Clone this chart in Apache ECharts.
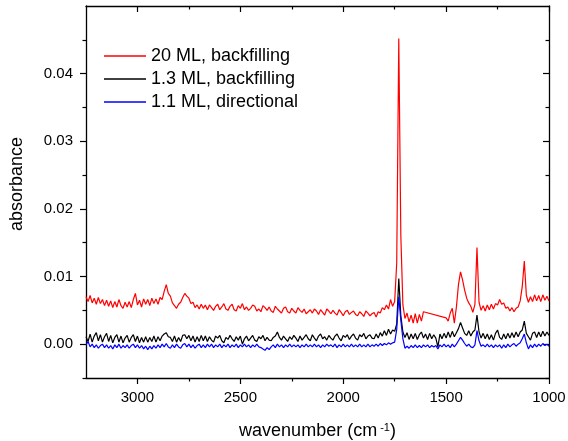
<!DOCTYPE html>
<html>
<head>
<meta charset="utf-8">
<script src="https://cdn.jsdelivr.net/npm/echarts@6/dist/echarts.min.js"></script>
<style>
html, body { margin: 0; padding: 0; background: #ffffff; }
#chart { width: 568px; height: 441px; }
</style>
</head>
<body>
<div id="chart"></div>
<script>
// IR absorbance spectra, wavenumber grid in cm^-1 (10 cm^-1 steps)
const wavenumber = [
  3250,3240,3230,3220,3210,3200,3190,3180,3170,3160,
  3150,3140,3130,3120,3110,3100,3090,3080,3070,3060,
  3050,3040,3030,3020,3010,3000,2990,2980,2970,2960,
  2950,2940,2930,2920,2910,2900,2890,2880,2870,2860,
  2850,2840,2830,2820,2810,2800,2790,2780,2770,2760,
  2750,2740,2730,2720,2710,2700,2690,2680,2670,2660,
  2650,2640,2630,2620,2610,2600,2590,2580,2570,2560,
  2550,2540,2530,2520,2510,2500,2490,2480,2470,2460,
  2450,2440,2430,2420,2410,2400,2390,2380,2370,2360,
  2350,2340,2330,2320,2310,2300,2290,2280,2270,2260,
  2250,2240,2230,2220,2210,2200,2190,2180,2170,2160,
  2150,2140,2130,2120,2110,2100,2090,2080,2070,2060,
  2050,2040,2030,2020,2010,2000,1990,1980,1970,1960,
  1950,1940,1930,1920,1910,1900,1890,1880,1870,1860,
  1850,1840,1830,1820,1810,1800,1790,1780,1770,1760,
  1750,1740,1730,1720,1710,1700,1690,1680,1670,1660,
  1650,1640,1630,1620,1610,1600,1590,1580,1570,1560,
  1550,1540,1530,1520,1510,1500,1490,1480,1470,1460,
  1450,1440,1430,1420,1410,1400,1390,1380,1370,1360,
  1350,1340,1330,1320,1310,1300,1290,1280,1270,1260,
  1250,1240,1230,1220,1210,1200,1190,1180,1170,1160,
  1150,1140,1130,1120,1110,1100,1090,1080,1070,1060,
  1050,1040,1030,1020,1010,1000
];

// 20 ML, backfilling (null = no data recorded in that window)
const ml20Backfilling = [
  0.0070,0.0063,0.0072,0.0061,0.0068,0.0059,0.0069,0.0060,0.0066,0.0057,
  0.0065,0.0056,0.0064,0.0054,0.0063,0.0055,0.0066,0.0057,0.0053,0.0062,
  0.0055,0.0063,0.0054,0.0066,0.0075,0.0058,0.0065,0.0055,0.0067,0.0059,
  0.0066,0.0057,0.0068,0.0060,0.0067,0.0059,0.0069,0.0066,0.0078,0.0088,
  0.0075,0.0071,0.0061,0.0057,0.0053,0.0059,0.0062,0.0069,0.0075,0.0071,
  0.0068,0.0060,0.0062,0.0054,0.0058,0.0052,0.0059,0.0053,0.0058,0.0051,
  0.0058,0.0054,0.0050,0.0056,0.0059,0.0051,0.0055,0.0060,0.0052,0.0050,
  0.0056,0.0059,0.0051,0.0049,0.0057,0.0053,0.0060,0.0051,0.0055,0.0050,
  0.0053,0.0058,0.0056,0.0049,0.0052,0.0048,0.0057,0.0054,0.0050,0.0055,
  0.0049,0.0047,0.0056,0.0052,0.0049,0.0046,0.0053,0.0055,0.0048,0.0046,
  0.0053,0.0049,0.0046,0.0054,0.0050,0.0047,0.0052,0.0045,0.0048,0.0051,
  0.0046,0.0052,0.0049,0.0044,0.0051,0.0047,0.0043,0.0052,0.0049,0.0045,
  0.0050,0.0046,0.0043,0.0051,0.0047,0.0042,0.0048,0.0050,0.0044,0.0047,
  0.0049,0.0044,0.0042,0.0048,0.0045,0.0041,0.0049,0.0046,0.0042,0.0045,
  0.0047,0.0040,0.0048,0.0046,0.0054,0.0051,0.0058,0.0052,0.0066,0.0056,
  0.0063,0.0120,0.0452,0.0160,0.0058,0.0038,0.0046,0.0033,0.0043,0.0031,
  0.0045,0.0031,0.0044,0.0034,0.0048,null,null,null,null,null,
  null,null,null,null,null,0.0039,0.0034,0.0046,0.0053,0.0031,
  0.0055,0.0088,0.0107,0.0095,0.0080,0.0068,0.0061,0.0056,0.0047,0.0059,
  0.0143,0.0062,0.0050,0.0057,0.0049,0.0058,0.0051,0.0059,0.0052,0.0060,
  0.0058,0.0066,0.0059,0.0061,0.0053,0.0055,0.0049,0.0054,0.0048,0.0053,
  0.0055,0.0064,0.0085,0.0123,0.0072,0.0062,0.0070,0.0063,0.0073,0.0064,
  0.0072,0.0063,0.0073,0.0065,0.0071,0.0064
];

// 1.3 ML, backfilling
const ml13Backfilling = [
  0.0011,0.0004,0.0015,0.0003,0.0012,0.0017,0.0005,0.0014,0.0003,0.0011,
  0.0016,0.0004,0.0013,0.0002,0.0010,0.0014,0.0003,0.0012,0.0002,0.0009,
  0.0013,0.0003,0.0010,0.0014,0.0004,0.0012,0.0002,0.0010,0.0003,0.0011,
  0.0003,0.0010,0.0004,0.0012,0.0003,0.0011,0.0005,0.0012,0.0015,0.0017,
  0.0011,0.0010,0.0004,0.0012,0.0003,0.0010,0.0004,0.0013,0.0014,0.0008,
  0.0013,0.0005,0.0012,0.0003,0.0011,0.0004,0.0013,0.0005,0.0012,0.0004,
  0.0011,0.0006,0.0003,0.0012,0.0009,0.0013,0.0005,0.0002,0.0010,0.0007,
  0.0013,0.0008,0.0004,0.0011,0.0006,0.0012,0.0000,0.0008,0.0012,0.0005,
  0.0009,0.0013,0.0006,0.0004,0.0011,0.0008,0.0013,0.0005,0.0010,0.0006,
  0.0005,0.0010,0.0012,0.0018,0.0010,0.0006,0.0012,0.0008,0.0004,0.0011,
  0.0007,0.0013,0.0009,0.0004,0.0012,0.0006,0.0010,0.0014,0.0008,0.0005,
  0.0014,0.0009,0.0005,0.0012,0.0015,0.0008,0.0011,0.0006,0.0013,0.0009,
  0.0006,0.0012,0.0015,0.0009,0.0005,0.0013,0.0010,0.0014,0.0007,0.0012,
  0.0015,0.0009,0.0006,0.0014,0.0011,0.0016,0.0008,0.0012,0.0014,0.0009,
  0.0008,0.0015,0.0009,0.0017,0.0012,0.0020,0.0013,0.0022,0.0015,0.0021,
  0.0019,0.0030,0.0097,0.0042,0.0018,0.0010,0.0017,0.0007,0.0015,0.0008,
  0.0016,0.0007,0.0014,0.0018,0.0009,0.0015,0.0007,0.0016,0.0008,0.0014,
  0.0009,-0.0004,0.0015,0.0008,0.0016,0.0009,0.0018,0.0010,0.0019,0.0011,
  0.0017,0.0023,0.0032,0.0024,0.0016,0.0013,0.0020,0.0012,0.0018,0.0021,
  0.0043,0.0018,0.0009,0.0016,0.0008,0.0015,0.0007,0.0014,0.0006,0.0016,
  0.0021,0.0010,0.0007,0.0015,0.0008,0.0016,0.0009,0.0017,0.0010,0.0018,
  0.0011,0.0018,0.0021,0.0034,0.0016,0.0011,0.0006,0.0016,0.0018,0.0010,
  0.0018,0.0011,0.0019,0.0012,0.0018,0.0013
];

// 1.1 ML, directional
const ml11Directional = [
  -0.0001,0.0004,-0.0004,0.0000,-0.0005,-0.0001,-0.0006,-0.0002,0.0000,-0.0005,
  -0.0001,-0.0006,-0.0002,-0.0007,-0.0001,-0.0005,0.0000,-0.0006,-0.0002,-0.0005,
  -0.0001,-0.0006,-0.0002,0.0000,-0.0005,-0.0001,-0.0006,-0.0002,-0.0007,-0.0003,
  -0.0008,-0.0003,-0.0007,-0.0002,-0.0006,-0.0001,-0.0005,0.0000,-0.0004,0.0001,
  -0.0004,-0.0006,-0.0001,-0.0005,0.0000,-0.0004,-0.0006,-0.0001,0.0001,-0.0004,
  0.0000,-0.0005,-0.0001,-0.0006,-0.0002,0.0000,-0.0005,-0.0001,-0.0005,0.0000,
  -0.0004,0.0000,-0.0005,-0.0001,-0.0004,0.0000,-0.0005,-0.0001,-0.0004,0.0000,
  -0.0005,-0.0001,-0.0004,0.0000,-0.0005,-0.0001,-0.0004,0.0000,-0.0004,-0.0001,
  -0.0005,-0.0001,-0.0004,0.0000,-0.0004,-0.0005,-0.0007,-0.0009,-0.0005,-0.0008,
  -0.0004,-0.0001,-0.0005,0.0000,-0.0004,-0.0001,-0.0005,-0.0001,-0.0004,0.0000,
  -0.0004,-0.0001,-0.0004,-0.0001,-0.0005,-0.0001,-0.0004,0.0000,-0.0004,-0.0001,
  -0.0004,0.0000,-0.0004,-0.0001,-0.0005,-0.0001,-0.0004,0.0000,-0.0003,-0.0001,
  -0.0004,0.0000,-0.0005,-0.0001,-0.0004,0.0000,-0.0004,-0.0001,-0.0004,0.0000,
  -0.0004,-0.0001,-0.0004,0.0000,-0.0004,-0.0001,-0.0004,0.0000,-0.0004,-0.0001,
  -0.0003,0.0000,-0.0003,0.0001,-0.0002,0.0001,-0.0001,0.0002,0.0000,0.0002,
  0.0003,0.0022,0.0070,0.0035,0.0008,-0.0006,-0.0003,-0.0006,-0.0002,-0.0005,
  -0.0001,-0.0005,-0.0002,-0.0005,-0.0001,-0.0004,-0.0001,-0.0005,-0.0002,-0.0004,
  -0.0002,-0.0007,-0.0001,-0.0004,0.0000,-0.0004,-0.0001,-0.0005,0.0000,-0.0004,
  0.0000,0.0005,0.0010,0.0006,0.0001,-0.0003,0.0000,-0.0004,-0.0005,-0.0001,
  0.0020,0.0005,-0.0003,-0.0001,-0.0004,0.0000,-0.0004,-0.0001,-0.0005,-0.0001,
  -0.0004,-0.0001,-0.0006,-0.0001,-0.0005,0.0000,-0.0004,-0.0001,0.0001,-0.0003,
  0.0000,0.0002,0.0008,0.0015,0.0002,-0.0007,-0.0001,-0.0005,0.0000,-0.0004,
  0.0000,-0.0003,0.0001,-0.0002,0.0000,-0.0003
];

const seriesNames = ['20 ML, backfilling', '1.3 ML, backfilling', '1.1 ML, directional'];
const seriesColors = ['#ff0000', '#000000', '#0000ff'];
const xMajorTicks = [1000, 1500, 2000, 2500, 3000];
const xMinorTicks = [1250, 1750, 2250, 2750];
const yMajorTicks = [0, 0.01, 0.02, 0.03, 0.04];
const yMinorTicks = [-0.005, 0.005, 0.015, 0.025, 0.035, 0.045];

const FONT = "'Liberation Sans', Arial, Helvetica, sans-serif";
const frameLine = { show: true, onZero: false, lineStyle: { color: '#000', width: 1.3 } };
const noLine = { show: false, onZero: false };

function toPairs(values) {
  const out = [];
  wavenumber.forEach((w, i) => {
    if (values[i] !== null) out.push([w, values[i]]);
  });
  return out;
}

// one axis per tick set: main ticks, minor ticks, mirrored frame ticks
function xAxisDef(position, ticks, len, inside, withLine, withLabels) {
  return {
    type: 'value', position, inverse: true, min: 1000, max: 3250,
    axisLine: withLine ? frameLine : noLine,
    axisTick: { show: true, customValues: ticks, length: len, inside,
                lineStyle: { color: '#000', width: 1.2 } },
    axisLabel: withLabels
      ? { show: true, customValues: ticks, fontSize: 15, fontFamily: FONT, color: '#000', margin: 12,
          formatter: v => String(v) }
      : { show: false },
    splitLine: { show: false }
  };
}
function yAxisDef(position, ticks, len, inside, withLine, withLabels) {
  return {
    type: 'value', position, min: -0.005, max: 0.05,
    axisLine: withLine ? frameLine : noLine,
    axisTick: { show: true, customValues: ticks, length: len, inside,
                lineStyle: { color: '#000', width: 1.2 } },
    axisLabel: withLabels
      ? { show: true, customValues: ticks, fontSize: 15, fontFamily: FONT, color: '#000', margin: 13,
          formatter: v => v.toFixed(2) }
      : { show: false },
    splitLine: { show: false }
  };
}

const xMain = xAxisDef('bottom', xMajorTicks, 6, false, true, true);
xMain.name = 'wavenumber (cm{sup|-1})';
xMain.nameLocation = 'middle';
xMain.nameGap = 44;
xMain.nameTextStyle = {
  fontSize: 18, fontFamily: FONT, color: '#000',
  rich: { sup: { fontSize: 11, fontFamily: FONT, color: '#000', verticalAlign: 'top', padding: [0, 0, 0, 3] } }
};

const chart = echarts.init(document.getElementById('chart'), null, { renderer: 'canvas' });
chart.setOption({
  animation: false,
  backgroundColor: '#ffffff',
  grid: { left: 86, right: 19, top: 6, bottom: 63, containLabel: false, outerBoundsMode: 'none' },
  xAxis: [
    xMain,
    xAxisDef('bottom', xMinorTicks, 3.5, false, false, false),
    xAxisDef('top', xMajorTicks, 6, true, true, false),
    xAxisDef('top', xMinorTicks, 3.5, true, false, false)
  ],
  yAxis: [
    yAxisDef('left', yMajorTicks, 6, false, true, true),
    yAxisDef('left', yMinorTicks, 3.5, false, false, false),
    yAxisDef('right', yMajorTicks, 6, true, true, false),
    yAxisDef('right', yMinorTicks, 3.5, true, false, false)
  ],
  legend: {
    orient: 'vertical', left: 104, top: 47, padding: 0,
    icon: 'rect', itemWidth: 42, itemHeight: 1.3, itemGap: 5,
    textStyle: { fontSize: 18, fontFamily: FONT, color: '#000' },
    data: seriesNames
  },
  graphic: [{
    type: 'text', x: 17, y: 184, rotation: Math.PI / 2,
    style: { text: 'absorbance', fontSize: 18, fontFamily: FONT, fill: '#000',
             align: 'center', verticalAlign: 'middle' }
  }],
  series: [ml20Backfilling, ml13Backfilling, ml11Directional].map((vals, k) => ({
    name: seriesNames[k],
    type: 'line',
    xAxisIndex: 0, yAxisIndex: 0,
    data: toPairs(vals),
    symbol: 'none',
    color: seriesColors[k],
    lineStyle: { color: seriesColors[k], width: 1.2 },
    clip: true
  }))
});
</script>
</body>
</html>
